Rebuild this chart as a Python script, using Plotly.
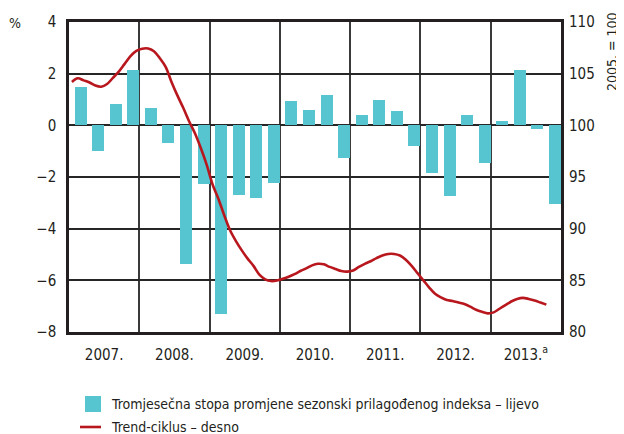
import numpy as np
import plotly.graph_objects as go

# ---- data ----
years = ["2007.", "2008.", "2009.", "2010.", "2011.", "2012.", "2013.<sup>a</sup>"]
bar_values = [
    1.5, -1.0, 0.81, 2.13,      # 2007
    0.66, -0.68, -5.37, -2.27,  # 2008
    -7.29, -2.69, -2.8, -2.23,  # 2009
    0.94, 0.58, 1.16, -1.26,    # 2010
    0.39, 0.97, 0.54, -0.8,     # 2011
    -1.85, -2.74, 0.39, -1.45,  # 2012
    0.17, 2.13, -0.14, -3.03,   # 2013
]
trend_values = [
    104.2, 104.55, 104.35, 104.15, 103.85, 103.74, 104.0, 104.6, 105.2, 105.95, 106.7, 107.2,
    107.42, 107.44, 107.17, 106.5, 105.65, 104.2, 102.9, 101.7, 100.4, 99.23, 97.8, 96.2,
    94.3, 92.9, 91.3, 89.85, 88.8, 87.9, 87.1, 86.4, 85.55, 85.1, 84.93, 84.98,
    85.15, 85.35, 85.6, 85.9, 86.16, 86.45, 86.6, 86.55, 86.3, 86.1, 85.9, 85.84,
    85.95, 86.3, 86.6, 86.85, 87.15, 87.4, 87.55, 87.55, 87.4, 87.0, 86.4, 85.7,
    85.0, 84.3, 83.7, 83.35, 83.1, 83.0, 82.85, 82.7, 82.45, 82.15, 81.95, 81.8,
    81.9, 82.25, 82.6, 82.95, 83.2, 83.3, 83.2, 83.05, 82.85, 82.65,
]
bar_name = "Tromjesečna stopa promjene sezonski prilagođenog indeksa – lijevo"
line_name = "Trend-ciklus – desno"

# positions in quarter units (0..28)
bar_x = np.arange(len(bar_values)) + 0.5
trend_x = (np.arange(len(trend_values)) + 0.5) / 3.0
year_centers = [4 * i + 2 for i in range(len(years))]

BAR = "#56c5d0"
LINE = "#b8171e"
DARK = "#231f20"
FONT = "DejaVu Sans Condensed, Liberation Sans Narrow, sans-serif"

# page body has an 8px margin: work in window pixels and shift by OFF
OFF = 8
W, H = 624 - OFF, 434 - OFF
L, R, T, B = 69 - OFF, 561 - OFF, 22 - OFF, 332 - OFF

def px(xp):
    return (xp - OFF - L) / (R - L)
def py(yp):
    return (B - (yp - OFF)) / (B - T)

fig = go.Figure()
fig.add_trace(go.Bar(x=bar_x, y=bar_values, width=0.68, offset=-0.18,
                     marker=dict(color=BAR, line=dict(width=0)), name=bar_name,
                     showlegend=False))
fig.add_trace(go.Scatter(x=trend_x, y=trend_values, yaxis="y2", mode="lines",
                         line=dict(color=LINE, width=2.6, shape="spline"),
                         name=line_name, showlegend=False))

fig.update_layout(
    width=W, height=H,
    margin=dict(l=L, r=W - R, t=T, b=H - B, pad=0),
    paper_bgcolor="white", plot_bgcolor="white",
    font=dict(family=FONT, size=15, color=DARK),
    bargap=0,
    xaxis=dict(range=[0, 28], tickvals=year_centers, ticktext=years, automargin=False,
               showgrid=False, zeroline=False, ticks="", ticklabelstandoff=7,
               showline=True, linecolor=DARK, linewidth=2.5, mirror=True,
               minor=dict(tick0=0, dtick=4, showgrid=True, gridcolor="#3a3a3a",
                          gridwidth=1.6, ticks=""),
               tickfont=dict(size=15)),
    yaxis=dict(range=[-8, 4], dtick=2, showgrid=True, gridcolor="#262626", automargin=False,
               gridwidth=1.6, zeroline=True, zerolinecolor="#262626", zerolinewidth=1.6,
               showline=True, linecolor=DARK, linewidth=2.5, mirror=True,
               ticks="", ticklabelstandoff=7, tickfont=dict(size=15)),
    yaxis2=dict(range=[80, 110], dtick=5, overlaying="y", side="right", automargin=False,
                showgrid=False, zeroline=False, showline=False, ticks="",
                ticklabelstandoff=7, tickfont=dict(size=15)),
    showlegend=False,
)

# top rule
fig.add_shape(type="line", xref="paper", yref="paper", x0=px(9), x1=px(624),
              y0=py(6.5), y1=py(6.5), line=dict(color="#a0a0a0", width=2))

# legend (manual)
fig.add_shape(type="rect", xref="paper", yref="paper", x0=px(85), x1=px(101),
              y0=py(412), y1=py(396), fillcolor=BAR, line=dict(width=0))
fig.add_shape(type="line", xref="paper", yref="paper", x0=px(80), x1=px(101),
              y0=py(427), y1=py(427), line=dict(color=LINE, width=2.6))

annos = [
    dict(text="%", x=px(14.5), y=py(23), xanchor="center", yanchor="middle", size=14),
    dict(text="2005. = 100", x=px(612), y=py(52), xanchor="center", yanchor="middle",
         size=14, textangle=-90),
    dict(text=bar_name, x=px(109), y=py(404), xanchor="left", yanchor="middle", size=14),
    dict(text=line_name, x=px(109), y=py(427), xanchor="left", yanchor="middle", size=14),
]
for a in annos:
    fig.add_annotation(text=a["text"], x=a["x"], y=a["y"], xref="paper", yref="paper",
                       xanchor=a["xanchor"], yanchor=a["yanchor"], showarrow=False,
                       textangle=a.get("textangle", 0),
                       font=dict(family=FONT, size=a["size"], color=DARK))

fig.write_html("out.html")
